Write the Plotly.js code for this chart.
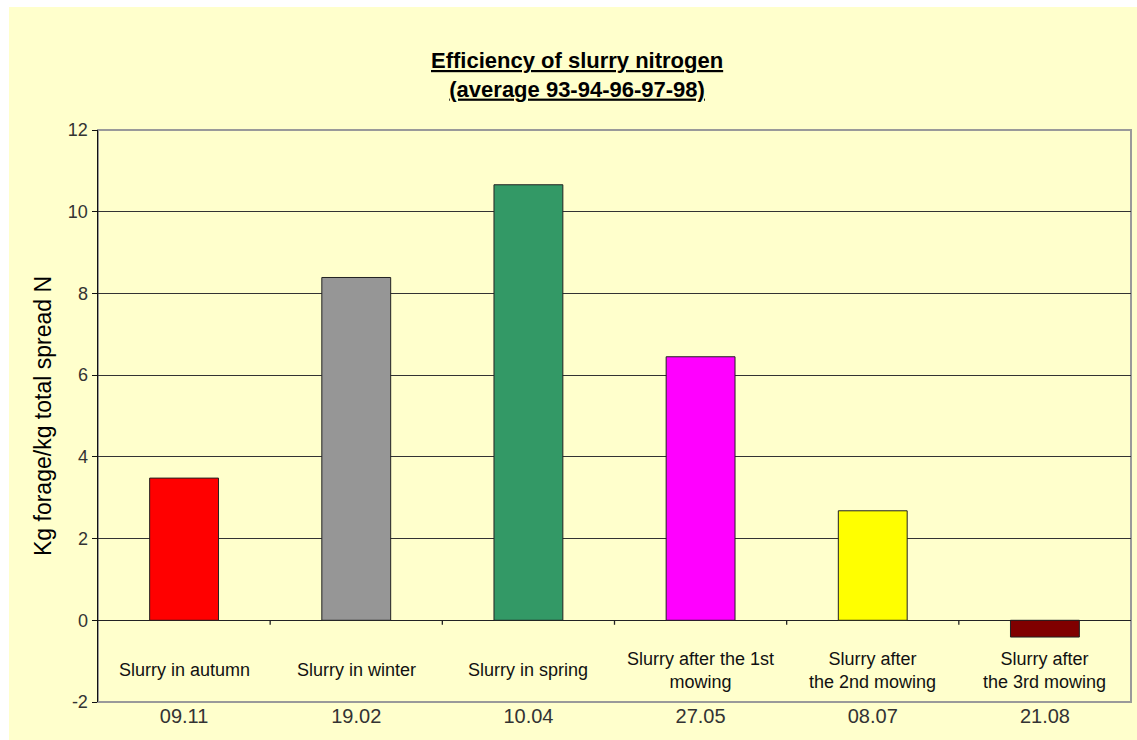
<!DOCTYPE html>
<html>
<head>
<meta charset="utf-8">
<script src="https://cdn.plot.ly/plotly-3.0.1.min.js"></script>
<style>
html,body{margin:0;padding:0;background:#ffffff;width:1137px;height:740px;overflow:hidden;}
#chart{position:absolute;left:9px;top:7px;width:1128px;height:733px;}
</style>
</head>
<body>
<div id="chart"></div>
<script>
const dates = ["09.11", "19.02", "10.04", "27.05", "08.07", "21.08"];
const names = ["Slurry in autumn", "Slurry in winter", "Slurry in spring", "Slurry after the 1st<br>mowing", "Slurry after<br>the 2nd mowing", "Slurry after<br>the 3rd mowing"];
const values = [3.48, 8.39, 10.66, 6.45, 2.68, -0.41];
const colors = ["#FF0000", "#969696", "#339966", "#FF00FF", "#FFFF00", "#800000"];
const yTicks = [-2, 0, 2, 4, 6, 8, 10, 12];
const titleLines = ["Efficiency of slurry nitrogen", "(average 93-94-96-97-98)"];
const yTitle = "Kg forage/kg total spread N";

const FONT = "Liberation Sans, Arial, sans-serif";

const trace = {
  type: "bar",
  x: dates,
  y: values,
  width: 0.4,
  marker: {color: colors, line: {color: "#222222", width: 1}},
  hoverinfo: "x+y"
};

const annotations = names.map((n, i) => ({
  x: i, y: -1.22, xref: "x", yref: "y",
  text: n, showarrow: false,
  font: {family: FONT, size: 18, color: "#111111"},
  align: "center", xanchor: "center", yanchor: "middle"
}));
annotations.push({
  x: 0.4637, y: 1.0953, xref: "paper", yref: "paper",
  text: titleLines.map(t => "<b><u>" + t + "</u></b>").join("<br>"),
  showarrow: false, align: "center",
  xanchor: "center", yanchor: "middle",
  font: {family: FONT, size: 22, color: "#000000"}
});

const shapes = [
  {type: "rect", xref: "paper", yref: "paper", x0: 0, x1: 1, y0: 0, y1: 1,
   line: {color: "#9a9a9a", width: 2}, layer: "below"}
];
for (let i = 1; i < dates.length; i++) {
  shapes.push({type: "line", xref: "x", yref: "y", x0: i - 0.5, x1: i - 0.5, y0: 0, y1: -0.11,
    line: {color: "#222", width: 1.3}});
}

const layout = {
  width: 1128, height: 733,
  paper_bgcolor: "#FFFFCC", plot_bgcolor: "#FFFFCC",
  margin: {l: 89, r: 6, t: 123, b: 38},
  showlegend: false,
  xaxis: {
    type: "category",
    showgrid: false, zeroline: false, showline: false,
    ticks: "", ticklabelstandoff: 0,
    tickfont: {family: FONT, size: 20, color: "#333333"},
    range: [-0.5, 5.5]
  },
  yaxis: {
    range: [-2, 12], tickvals: yTicks, ticktext: yTicks.map(String),
    showgrid: true, gridcolor: "#333333", gridwidth: 1,
    zeroline: true, zerolinecolor: "#222", zerolinewidth: 1.5,
    showline: true, linecolor: "#111", linewidth: 1.5,
    ticks: "outside", ticklen: 5, tickcolor: "#111",
    tickfont: {family: FONT, size: 18, color: "#333333"},
    title: {text: yTitle, standoff: 10,
      font: {family: FONT, size: 23, color: "#000"}}
  },
  annotations: annotations,
  shapes: shapes
};

Plotly.newPlot("chart", [trace], layout, {displayModeBar: false, staticPlot: true});
</script>
</body>
</html>
